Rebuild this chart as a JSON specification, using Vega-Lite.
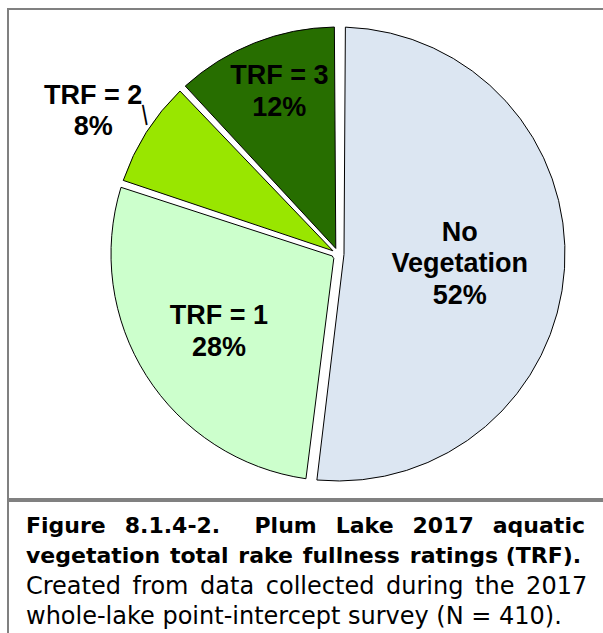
{
  "$schema": "https://vega.github.io/schema/vega-lite/v6.json",
  "background": "white",
  "padding": {"left": 7, "top": 7, "right": 0, "bottom": 0},
  "spacing": 0,
  "config": {"view": {"stroke": null}, "font": "Liberation Sans"},
  "vconcat": [
    {
      "width": 660,
      "height": 490,
      "view": {"stroke": "#808080", "strokeWidth": 2},
      "data": {
        "values": [
          {"category": "No Vegetation", "percent": 52, "label": "No\nVegetation\n52%"},
          {"category": "TRF = 1", "percent": 28, "label": "TRF = 1\n28%"},
          {"category": "TRF = 2", "percent": 8, "label": "TRF = 2\n8%"},
          {"category": "TRF = 3", "percent": 12, "label": "TRF = 3\n12%"}
        ]
      },
      "encoding": {
        "theta": {"field": "percent", "type": "quantitative", "stack": true},
        "color": {
          "field": "category",
          "type": "nominal",
          "scale": {
            "domain": ["No Vegetation", "TRF = 1", "TRF = 2", "TRF = 3"],
            "range": ["#dce6f2", "#ccffcc", "#99e600", "#276e00"]
          },
          "legend": null
        }
      },
      "layer": [
        {
          "mark": {
            "type": "arc",
            "outerRadius": 227,
            "innerRadius": 6,
            "padAngle": {"expr": "datum.category === 'No Vegetation' ? 0.065 : 0.032"},
            "stroke": "#000000",
            "strokeWidth": 1
          }
        },
        {
          "mark": {
            "type": "text",
            "font": "Liberation Sans",
            "fontSize": 22,
            "radius": 237,
            "dx": 9,
            "dy": -12,
            "angle": -11
          },
          "encoding": {
            "text": {"value": "|"},
            "color": {"value": "#000000"},
            "opacity": {"condition": {"test": "datum.category === 'TRF = 2'", "value": 1}, "value": 0}
          }
        },
        {
          "mark": {
            "type": "text",
            "font": "Liberation Sans",
            "fontSize": 27,
            "fontWeight": "bold",
            "lineBreak": "\n",
            "lineHeight": 31.5,
            "baseline": "middle",
            "align": "center",
            "radius": {"expr": "datum.category === 'TRF = 2' ? 290 : datum.category === 'TRF = 3' ? 173 : datum.category === 'TRF = 1' ? 141 : 122"},
            "dx": {"expr": "datum.category === 'TRF = 3' ? 5 : 0"},
            "dy": {"expr": "datum.category === 'TRF = 2' ? -3 : datum.category === 'TRF = 3' ? -17 : datum.category === 'TRF = 1' ? -13.5 : -29"}
          },
          "encoding": {
            "text": {"field": "label", "type": "nominal"},
            "color": {"value": "#000000"}
          }
        }
      ]
    },
    {
      "width": 660,
      "height": 140,
      "view": {"stroke": "#808080", "strokeWidth": 2},
      "data": {
        "values": [
          {"line": 1, "text": "Figure\u00a0\u00a0\u20068.1.4-2.\u00a0\u00a0\u00a0\u00a0\u2006Plum\u00a0\u00a0\u2006Lake\u00a0\u00a0\u20062017\u00a0\u00a0\u2006aquatic"},
          {"line": 2, "text": "vegetation\u00a0\u200atotal\u00a0\u200arake\u00a0\u200afullness\u00a0\u200aratings\u00a0(TRF)."},
          {"line": 3, "text": "Created\u00a0\u2006from\u00a0\u2006data\u00a0\u2006collected\u00a0\u2006during\u00a0\u2006the\u00a0\u20062017"},
          {"line": 4, "text": "whole-lake point-intercept survey (N = 410)."}
        ]
      },
      "mark": {
        "type": "text",
        "font": "DejaVu Sans",
        "align": "left",
        "baseline": "alphabetic",
        "dx": 18,
        "color": "#000000",
        "fontSize": {"expr": "datum.line <= 2 ? 22 : 24"},
        "fontWeight": {"expr": "datum.line <= 2 ? 'bold' : 'normal'"}
      },
      "encoding": {
        "x": {"datum": 0, "type": "quantitative", "scale": {"domain": [0, 1]}, "axis": null},
        "y": {"field": "line", "type": "ordinal", "scale": {"type": "point", "padding": 0.808, "align": 0.653}, "axis": null},
        "text": {"field": "text", "type": "nominal"}
      }
    }
  ]
}
